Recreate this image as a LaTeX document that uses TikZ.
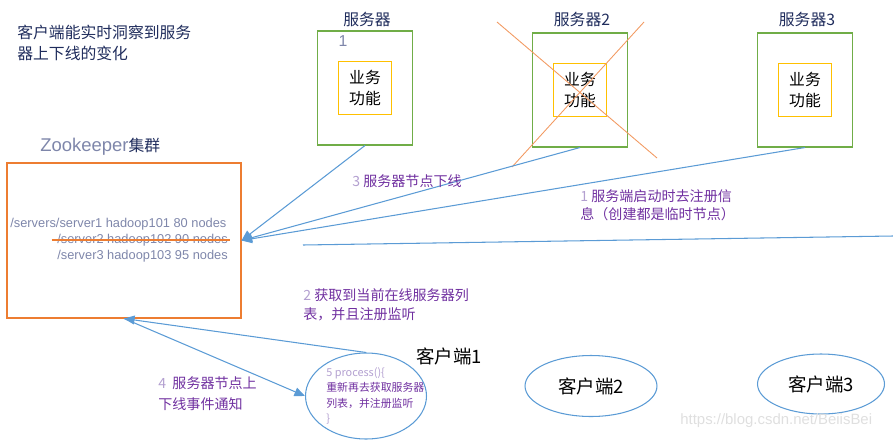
\documentclass[tikz,border=0pt]{standalone}
\usepackage{fontspec}
\setmainfont{Noto Sans CJK SC}
\newfontfamily\arial{Liberation Sans}
\usetikzlibrary{shapes.geometric,arrows.meta}

\definecolor{azul}{HTML}{5B9BD5}
\definecolor{verde}{HTML}{70AD47}
\definecolor{amarillo}{HTML}{FFC000}
\definecolor{naranja}{HTML}{ED7D31}
\definecolor{naranjaclaro}{HTML}{F29A62}
\definecolor{lila}{HTML}{7030A0}
\definecolor{lilaclaro}{HTML}{B3A0D0}
\definecolor{marino}{HTML}{1F2C5C}
\definecolor{grisazul}{HTML}{7E86AA}

\tikzset{
  servidor/.style={draw=verde, line width=0.6pt, minimum width=1.9cm, minimum height=2.28cm},
  funcion/.style={draw=amarillo, line width=0.6pt, minimum width=1.06cm, minimum height=1.06cm,
    inner sep=0pt, align=center, font=\fontsize{9}{12}\selectfont},
  cliente/.style={ellipse, draw=azul, line width=0.6pt, inner sep=0pt, font=\fontsize{10.5}{12}\selectfont},
  flecha/.style={azul, line width=0.6pt, -{Triangle[length=6pt,width=5pt]}},
  nota/.style={lila, anchor=west, align=left, inner sep=0pt},
  ruta/.style={grisazul, anchor=west, inner sep=0pt, font=\arial\fontsize{7.3}{9}\selectfont},
}

\begin{document}
\begin{tikzpicture}[x=0.02cm, y=-0.02cm]
    \useasboundingbox (0,0) rectangle (893,440);

    \node[marino, anchor=west, align=left, inner sep=0pt, font=\fontsize{9}{12}\selectfont]
        (titulo) at (17,42.5) {客户端能实时洞察到服务\\器上下线的变化};

    % Servidores con su bloque de funciones
    \foreach \i/\x/\y/\nombre in {1/365/88/服务器, 2/580/90/服务器2, 3/805/90/服务器3}{
        \node[servidor] (srv\i) at (\x,\y) {};
        \node[funcion] (fun\i) at (\x,\y) {业务\\功能};
        \node[marino, font=\fontsize{9}{11}\selectfont] (tit\i) at (\x+2,19) {\nombre};
    }
    \node[grisazul, font=\arial\fontsize{9}{11}\selectfont] (num1) at (343,41) {1};

    % Servidor 2 caido
    \draw[naranjaclaro, line width=0.5pt] (497,22) -- (657,158);
    \draw[naranjaclaro, line width=0.5pt] (644,22) -- (512,167);

    % Cluster de Zookeeper
    \node[draw=naranja, line width=0.6pt, minimum width=4.68cm, minimum height=3.1cm] (zk) at (124,240.5) {};
    \node[anchor=west, inner sep=0pt] (zktit) at (40,147)
        {{\arial\fontsize{10.5}{12}\selectfont\color{grisazul}Zookeeper}{\fontsize{9}{11}\selectfont\color{marino}集群}};
    \node[ruta] (ruta1) at (10,224) {/servers/server1 hadoop101 80 nodes};
    \node[ruta] (ruta2) at (57,240) {/server2 hadoop102 90 nodes};
    \node[ruta] (ruta3) at (57,256) {/server3 hadoop103 95 nodes};
    \draw[naranja, line width=0.8pt] ([xshift=-3pt]ruta2.west) -- ([xshift=1pt]ruta2.east);

    \foreach \i in {1,2,3}
        \draw[flecha] (srv\i.south) -- (zk.east);

    \coordinate (lineaizq) at (303,245);
    \coordinate (lineader) at (893,236);
    \draw[azul, line width=0.6pt] (lineaizq) -- (lineader);

    % Pasos
    \node[nota, font=\fontsize{8}{10}\selectfont] (nota3) at (352,181)
        {\textcolor{lilaclaro}{3} 服务器节点下线};
    \node[nota, font=\fontsize{8}{10.3}\selectfont] (nota1) at (580,205)
        {\textcolor{lilaclaro}{1} 服务端启动时去注册信\\息（创建都是临时节点）};
    \node[nota, font=\fontsize{8}{10.8}\selectfont] (nota2) at (303,304.5)
        {\textcolor{lilaclaro}{2} 获取到当前在线服务器列\\表，并且注册监听};
    \node[nota, font=\fontsize{8}{12}\selectfont] (nota4) at (158,393.5)
        {\textcolor{lilaclaro}{4}\ \ 服务器节点上\\下线事件通知};

    % Clientes
    \node[cliente, minimum width=2.42cm, minimum height=1.72cm] (cli1) at (366,396) {};
    \node[anchor=west, align=left, inner sep=0pt, font=\fontsize{6.2}{8.7}\selectfont] (proceso) at (326,396)
        {\textcolor{lilaclaro}{5 process()\{}\\\textcolor{lila}{重新再去获取服务器}\\\textcolor{lila}{列表，并注册监听}\\\textcolor{lilaclaro}{\}}};
    \node[font=\fontsize{10.5}{12}\selectfont] (cli1tit) at (449,356) {客户端1};
    \node[cliente, minimum width=2.64cm, minimum height=1.22cm] (cli2) at (591,386) {客户端2};
    \node[cliente, minimum width=2.54cm, minimum height=1.2cm] (cli3) at (821,384) {客户端3};

    \draw[flecha] (cli1.north) -- (zk.south);
    \draw[flecha] (zk.south) -- (cli1.west);

    \node[anchor=west, inner sep=0pt, gray!25, font=\arial\fontsize{8.5}{10}\selectfont]
        (marca) at (680,421) {https://blog.csdn.net/BeiisBei};
\end{tikzpicture}
\end{document}
